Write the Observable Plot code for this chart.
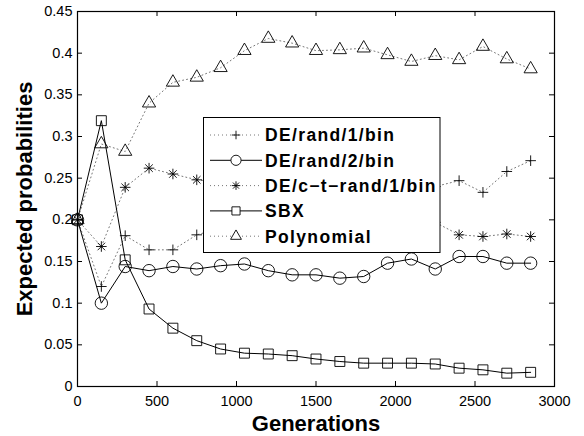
<!DOCTYPE html>
<html>
<head>
<meta charset="utf-8">
<script src="https://cdn.jsdelivr.net/npm/d3@7"></script>
<script src="https://cdn.jsdelivr.net/npm/@observablehq/plot@0.6"></script>
<style>
  html, body { margin: 0; padding: 0; background: #fff; }
  #chart { width: 584px; height: 436px; }
</style>
</head>
<body>
<div id="chart"></div>
<script>
// ---- data ----
const generations = [0, 150, 300, 450, 600, 750, 900, 1050, 1200, 1350, 1500, 1650, 1800, 1950, 2100, 2250, 2400, 2550, 2700, 2850];
const deRand1Bin   = [0.2, 0.12, 0.181, 0.164, 0.164, 0.182, 0.19, 0.2, 0.21, 0.205, 0.215, 0.22, 0.225, 0.23, 0.235, 0.24, 0.247, 0.233, 0.258, 0.271];
const deRand2Bin   = [0.2, 0.1, 0.144, 0.139, 0.144, 0.141, 0.145, 0.147, 0.139, 0.134, 0.134, 0.13, 0.132, 0.148, 0.153, 0.141, 0.156, 0.156, 0.148, 0.148];
const deCtRand1Bin = [0.2, 0.168, 0.239, 0.262, 0.255, 0.248, 0.245, 0.235, 0.225, 0.22, 0.215, 0.21, 0.205, 0.2, 0.2, 0.197, 0.182, 0.18, 0.183, 0.18];
const sbx          = [0.2, 0.319, 0.152, 0.093, 0.07, 0.055, 0.045, 0.04, 0.039, 0.037, 0.033, 0.03, 0.028, 0.028, 0.028, 0.027, 0.022, 0.02, 0.016, 0.017];
const polynomial   = [0.2, 0.291, 0.282, 0.34, 0.365, 0.371, 0.3825, 0.403, 0.4176, 0.412, 0.403, 0.404, 0.406, 0.398, 0.39, 0.397, 0.392, 0.408, 0.393, 0.381];

const seriesNames = ["DE/rand/1/bin", "DE/rand/2/bin", "DE/c\u2212t\u2212rand/1/bin", "SBX", "Polynomial"];
const xTicks = [0, 500, 1000, 1500, 2000, 2500, 3000];
const xTickLabels = ["0", "500", "1000", "1500", "2000", "2500", "3000"];
const yTicks = [0, 0.05, 0.1, 0.15, 0.2, 0.25, 0.3, 0.35, 0.4, 0.45];
const yTickLabels = ["0", "0.05", "0.1", "0.15", "0.2", "0.25", "0.3", "0.35", "0.4", "0.45"];
const xLabel = "Generations";
const yLabel = "Expected probabilities";

// ---- styling ----
const W = 584, H = 436;
const mL = 77, mR = 30, mT = 11, mB = 50;
const plotW = W - mL - mR, plotH = H - mT - mB;
const FONT = "'Liberation Sans', Arial, Helvetica, sans-serif";
const dotted = {stroke: "#666", strokeWidth: 0.9, strokeDasharray: "1,3"};
const solid = {stroke: "black", strokeWidth: 1};

const styles = [
  {line: dotted, marks: [{symbol: "plus", r: 3.5}]},
  {line: solid,  marks: [{symbol: "circle", r: 6.2}]},
  {line: dotted, marks: [{symbol: "plus", r: 3.5}, {symbol: "times", r: 3.5}]},
  {line: solid,  marks: [{symbol: "square", r: 5.6}]},
  {line: dotted, marks: [{symbol: "triangle", r: 4.9}]}
];
const allSeries = [deRand1Bin, deRand2Bin, deCtRand1Bin, sbx, polynomial];

const marks = [];
allSeries.forEach((vals, s) => {
  const rows = generations.map((g, i) => ({g, v: vals[i]}));
  marks.push(Plot.line(rows, {x: "g", y: "v", ...styles[s].line}));
  styles[s].marks.forEach(m => {
    marks.push(Plot.dot(rows, {x: "g", y: "v", symbol: () => m.symbol, r: m.r, stroke: "black", strokeWidth: 0.9, fill: "none"}));
  });
});

const chart = Plot.plot({
  width: W, height: H,
  marginLeft: mL, marginRight: mR, marginTop: mT, marginBottom: mB,
  style: {fontFamily: FONT, fontSize: "14.5px", background: "white", color: "black"},
  x: {domain: [0, 3000]},
  y: {domain: [0, 0.45]},
  symbol: {type: "identity"},
  marks: [
    Plot.axisX({ticks: xTicks, tickSize: 0, tickPadding: 9, fontSize: 14.5, label: null,
                tickFormat: d => xTickLabels[xTicks.indexOf(d)]}),
    Plot.axisY({ticks: yTicks, tickSize: 0, tickPadding: 5, fontSize: 14.5, label: null,
                tickFormat: d => yTickLabels[yTicks.indexOf(d)]}),
    ...marks,
    // inward ticks on all four sides
    Plot.tickX(xTicks, {x: d => d, insetTop: plotH - 5, stroke: "black", strokeWidth: 1}),
    Plot.tickX(xTicks, {x: d => d, insetBottom: plotH - 5, stroke: "black", strokeWidth: 1}),
    Plot.tickY(yTicks, {y: d => d, insetRight: plotW - 5, stroke: "black", strokeWidth: 1}),
    Plot.tickY(yTicks, {y: d => d, insetLeft: plotW - 5, stroke: "black", strokeWidth: 1}),
    Plot.frame({stroke: "black", strokeWidth: 1.2}),
    Plot.text([xLabel], {frameAnchor: "bottom", dy: 37, text: d => d, fontSize: 22, fontWeight: "bold", lineAnchor: "middle", textAnchor: "middle", fill: "black"}),
    Plot.text([yLabel], {frameAnchor: "left", dx: -53, rotate: -90, text: d => d, fontSize: 22, fontWeight: "bold", lineAnchor: "middle", textAnchor: "middle", fill: "black"})
  ]
});

document.getElementById("chart").appendChild(chart);

// ---- legend (drawn on top, like MATLAB's legend box) ----
const svg = d3.select(chart);
const lg = svg.append("g").attr("font-family", FONT).attr("text-anchor", "start");
const box = {x: 203.5, y: 117.5, w: 236.5, h: 135};
lg.append("rect").attr("x", box.x).attr("y", box.y).attr("width", box.w).attr("height", box.h)
  .attr("fill", "white").attr("stroke", "black").attr("stroke-width", 1);
const symMap = {plus: d3.symbolPlus, circle: d3.symbolCircle, times: d3.symbolTimes, square: d3.symbolSquare, triangle: d3.symbolTriangle};
const legendScale = 0.82;
seriesNames.forEach((name, i) => {
  const cy = 135 + i * 25.3;
  const st = styles[i];
  lg.append("line").attr("x1", 210).attr("x2", 262).attr("y1", cy).attr("y2", cy)
    .attr("stroke", st.line.stroke).attr("stroke-width", st.line.strokeWidth)
    .attr("stroke-dasharray", st.line.strokeDasharray || null);
  st.marks.forEach(m => {
    const rr = m.r * legendScale;
    lg.append("path").attr("d", d3.symbol(symMap[m.symbol], Math.PI * rr * rr)())
      .attr("transform", `translate(236,${cy})`)
      .attr("fill", m.symbol === "circle" || m.symbol === "square" || m.symbol === "triangle" ? "white" : "none")
      .attr("stroke", "black").attr("stroke-width", 0.9);
  });
  lg.append("text").attr("x", 265).attr("y", cy).attr("dy", "0.36em")
    .attr("text-anchor", "start")
    .attr("font-size", 17.5).attr("font-weight", "bold").attr("letter-spacing", 1.35)
    .attr("fill", "black").text(name);
});
</script>
</body>
</html>
